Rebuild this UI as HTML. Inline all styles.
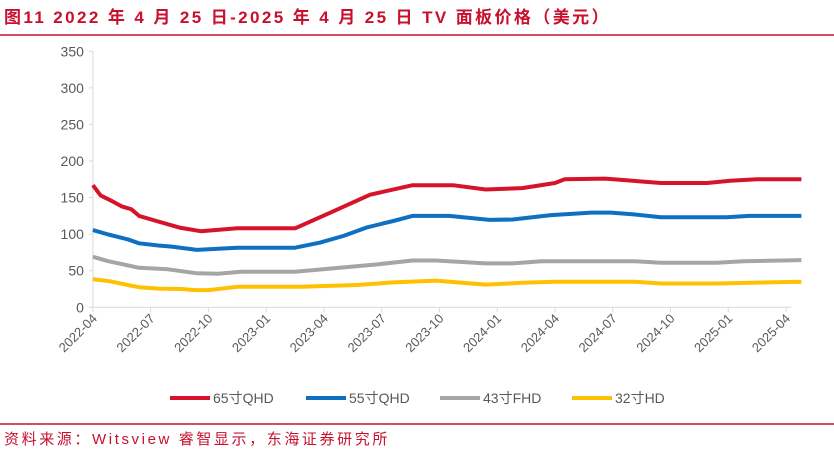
<!DOCTYPE html>
<html><head><meta charset="utf-8"><style>
body{margin:0;width:834px;height:452px;background:#fff;overflow:hidden;font-family:"Liberation Sans","Noto Sans CJK SC",sans-serif}
</style></head><body>
<svg width="834" height="452" xmlns="http://www.w3.org/2000/svg">
<text x="4" y="23" fill="#c8102e" font-weight="bold" font-size="17" letter-spacing="2.4" font-family="Liberation Sans,Noto Sans CJK SC,sans-serif">图11  2022 年 4 月 25 日-2025 年 4 月 25 日 TV 面板价格（美元）</text>
<line x1="0" y1="35" x2="834" y2="35" stroke="#c8102e" stroke-width="1.5"/>
<g id="axes"></g>
<g id="lines"></g>
<g id="legend"></g>
<line x1="0" y1="424" x2="834" y2="424" stroke="#c8102e" stroke-width="1.5"/>
<text x="4" y="444" fill="#c8102e" font-size="15" letter-spacing="2.6" font-family="Liberation Sans,Noto Sans CJK SC,sans-serif">资料来源：Witsview 睿智显示，东海证券研究所</text>
</svg>
<script>
const yTicks=[0,50,100,150,200,250,300,350];
const xLabels=["2022-04","2022-07","2022-10","2023-01","2023-04","2023-07","2023-10","2024-01","2024-04","2024-07","2024-10","2025-01","2025-04"];
const seriesNames=["65寸QHD","55寸QHD","43寸FHD","32寸HD"];
const seriesColors=["#d7132a","#0f6fc1","#a5a5a5","#ffc000"];
const months65=[0,0.4,1,1.5,2,2.4,3.3,4.5,5.6,7.5,10.5,12.3,14.4,16.6,18.7,20.4,22.3,24,24.5,26.6,29.5,31.9,33.1,34.5,36.8];
const vals65=[167,153,145,138,134,125,118,109,104,108,108,129,154,167,167,161,163,170,175,176,170,170,173,175,175];
const months55=[0,0.8,1.8,2.4,3.4,4.1,5.4,7.5,10.5,11.8,13,14.2,15.6,16.6,18.5,20.6,21.8,23.8,25.9,26.9,28.1,29.5,32.9,34.1,36.8];
const vals55=[105.5,99.5,93,87.5,84.5,83,78.5,81.5,81.5,88.5,97.5,109,118,125,125,119.5,120,126,129.5,129.5,127,123,123,125,125];
const months43=[0,0.8,2.4,3.9,5.4,6.5,7.7,10.5,14.7,16.6,17.8,20.4,21.8,23.3,28.1,29.5,32.4,33.8,36.8];
const vals43=[69,63,54,52,46.5,46,48.5,48.5,58.5,64,64,60,60,63,63,61,61,63,64.5];
const months32=[0,0.9,1.7,2.4,3.4,4.6,5.3,6,7.5,10.8,13.7,15.6,17.8,20.4,22.3,24,28.1,29.5,32.4,36.8];
const vals32=[38.5,35.5,31,27.5,25.5,25,23.5,23.5,28,28,30.5,34,36.5,31,33.5,35,35,32.5,32.5,35];
const NS="http://www.w3.org/2000/svg";
const x0=92.9,x1=786,y0=307.3,yTop=51.3;
function xS(m){return x0+m*(x1-x0)/36;}
function yS(v){return y0-(v/350)*(y0-yTop);}
function mk(t,a,p){const e=document.createElementNS(NS,t);for(const k in a)e.setAttribute(k,a[k]);p.appendChild(e);return e;}
const ax=document.getElementById('axes');
const yl=mk('line',{x1:x0,y1:yS(350),x2:x0,y2:y0,stroke:'#d9d9d9'},ax);


yTicks.forEach(v=>{
 const t=mk('line',{x1:x0-4,y1:yS(v),x2:x0,y2:yS(v),stroke:'#d9d9d9'},ax);
 
 
 const l=mk('text',{x:x0-9,y:yS(v)+5,'text-anchor':'end','font-size':'14',fill:'#595959'},ax);
 l.textContent=v;
 
 
});
const xl=mk('line',{x1:x0,y1:y0,x2:x1+5,y2:y0,stroke:'#d9d9d9'},ax);


xLabels.forEach((s,i)=>{
 const x=xS(i*3);
 const t=mk('line',{x1:x,y1:y0,x2:x,y2:y0+5,stroke:'#d9d9d9'},ax);
 
 
 const l=mk('text',{x:x+5,y:y0+12,'text-anchor':'end','font-size':'13',fill:'#595959',transform:`rotate(-45 ${x+5} ${y0+12})`},ax);
 l.textContent=s;
 
 
});
const data=[[months65,vals65],[months55,vals55],[months43,vals43],[months32,vals32]];
const lg=document.getElementById('lines');
data.forEach((d,i)=>{
 const pts=d[0].map((m,j)=>xS(m).toFixed(1)+','+yS(d[1][j]).toFixed(1)).join(' ');
 const p=mk('polyline',{points:pts,fill:'none',stroke:seriesColors[i],'stroke-width':'4','stroke-linejoin':'round'},lg);
 
 
});
const leg=document.getElementById('legend');
const lx=[170,306,440,572];
seriesNames.forEach((n,i)=>{
 const g=mk('g',{},leg);
 
 
 mk('line',{x1:lx[i],y1:398,x2:lx[i]+40,y2:398,stroke:seriesColors[i],'stroke-width':'4'},g);
 const t=mk('text',{x:lx[i]+43,y:403,'font-size':'14',fill:'#595959'},g);
 t.textContent=n;
});
</script>
</body></html>
